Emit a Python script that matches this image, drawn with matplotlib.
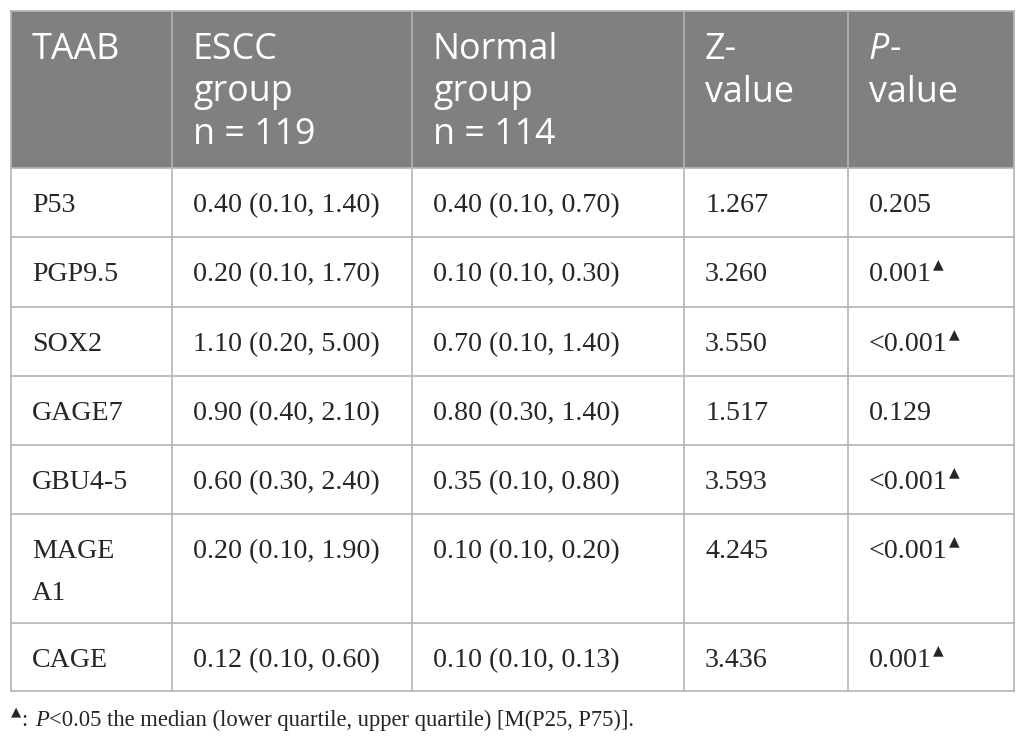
import matplotlib
matplotlib.use("Agg")
import matplotlib.pyplot as plt
from matplotlib.patches import Rectangle

# table content
headers = [["TAAB"], ["ESCC", "group", "n = 119"], ["Normal", "group", "n = 114"],
           ["Z-", "value"], ["P-", "value"]]
markers = ["P53", "PGP9.5", "SOX2", "GAGE7", "GBU4-5", "MAGE\nA1", "CAGE"]
escc = ["0.40 (0.10, 1.40)", "0.20 (0.10, 1.70)", "1.10 (0.20, 5.00)", "0.90 (0.40, 2.10)",
        "0.60 (0.30, 2.40)", "0.20 (0.10, 1.90)", "0.12 (0.10, 0.60)"]
normal = ["0.40 (0.10, 0.70)", "0.10 (0.10, 0.30)", "0.70 (0.10, 1.40)", "0.80 (0.30, 1.40)",
          "0.35 (0.10, 0.80)", "0.10 (0.10, 0.20)", "0.10 (0.10, 0.13)"]
z_values = ["1.267", "3.260", "3.550", "1.517", "3.593", "4.245", "3.436"]
p_values = ["0.205", "0.001", "<0.001", "0.129", "<0.001", "<0.001", "0.001"]
significant = [False, True, True, False, True, True, True]
footnote = "<0.05 the median (lower quartile, upper quartile) [M(P25, P75)]."

# layout in pixels
W, H = 1026, 745
col_edges = [11, 172, 412, 684, 848, 1014]
row_edges = [11, 168, 237, 307, 376, 445, 514, 623, 691]
pad = 21
header_bg = "#808080"
line_col = "#b4b4b4"
text_col = "#262626"
sans = "Open Sans"
serif = "Liberation Serif"
hsize = 25.8
bsize = 20.2
fsize = 16.3

fig = plt.figure(figsize=(W / 100, H / 100), dpi=100)
ax = fig.add_axes([0, 0, 1, 1])
ax.set_xlim(0, W)
ax.set_ylim(H, 0)
ax.axis("off")

# header background
ax.add_patch(Rectangle((col_edges[0], row_edges[0]), col_edges[-1] - col_edges[0],
                       row_edges[1] - row_edges[0], color=header_bg, lw=0, zorder=0))

# grid lines
for y in row_edges:
    ax.plot([col_edges[0], col_edges[-1]], [y, y], color=line_col, lw=1.2, zorder=1)
for x in col_edges:
    ax.plot([x, x], [row_edges[0], row_edges[-1]], color=line_col, lw=1.2, zorder=1)

fig.canvas.draw()
renderer = fig.canvas.get_renderer()


def right_edge(t):
    bb = t.get_window_extent(renderer)
    return ax.transData.inverted().transform((bb.x1, bb.y0))[0]


# header text
for j, lines in enumerate(headers):
    x = col_edges[j] + pad
    for k, line in enumerate(lines):
        y = 59 + 42.5 * k
        if j == 4 and k == 0:
            t = ax.text(x, y, "P", fontsize=hsize, family=sans, style="italic",
                        color="white", va="baseline")
            ax.text(right_edge(t), y, "-", fontsize=hsize, family=sans,
                    color="white", va="baseline")
        else:
            ax.text(x, y, line, fontsize=hsize, family=sans, color="white", va="baseline")

# body text
columns = [markers, escc, normal, z_values, p_values]
for i in range(len(markers)):
    base = row_edges[i + 1] + 44
    for j, col in enumerate(columns):
        x = col_edges[j] + pad
        for k, line in enumerate(col[i].split("\n")):
            t = ax.text(x, base + 42 * k, line, fontsize=bsize, family=serif,
                        color=text_col, va="baseline")
        if j == 4 and significant[i]:
            ax.text(right_edge(t) + 1, base - 13, "\u25b2", fontsize=10,
                    family="DejaVu Sans", color=text_col, va="baseline")

# footnote
fy = 726
t = ax.text(11, fy - 11, "\u25b2", fontsize=9.5, family="DejaVu Sans", color=text_col,
            va="baseline")
t = ax.text(right_edge(t) + 1, fy, ": ", fontsize=fsize, family=serif, color=text_col,
            va="baseline")
t = ax.text(right_edge(t) + 1, fy, "P", fontsize=fsize, family=serif, style="italic",
            color=text_col, va="baseline")
ax.text(right_edge(t), fy, footnote, fontsize=fsize, family=serif, color=text_col,
        va="baseline")

fig.savefig("out.png", dpi=100)
